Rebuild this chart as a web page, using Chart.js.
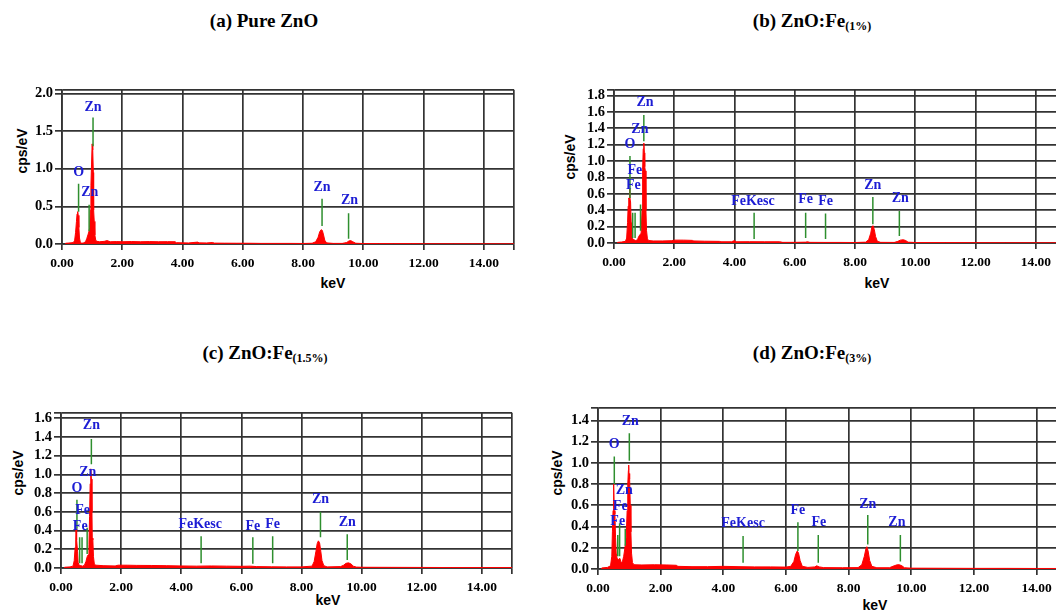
<!DOCTYPE html>
<html>
<head>
<meta charset="utf-8">
<title>EDS spectra of ZnO and ZnO:Fe</title>
<script src="https://cdn.jsdelivr.net/npm/chart.js@4/dist/chart.umd.min.js"></script>
<style>
  html, body { margin: 0; padding: 0; background: #fff; width: 1056px; height: 611px; overflow: hidden; position: relative; }
  .ttl { position: absolute; transform: translate(-50%, -50%); white-space: nowrap;
         font: bold 19px "Liberation Serif", "Times New Roman", serif; color: #000; }
  .ttl small { font-size: 12px; position: relative; top: 3px; }
  .axt { position: absolute; transform: translate(-50%, -50%); white-space: nowrap;
         font: bold 14px "Liberation Sans", Arial, sans-serif; color: #000; }
  .axt.v { transform: translate(-50%, -50%) rotate(-90deg); }
</style>
</head>
<body>
<div class="ttl" style="left:264px;top:21px">(a) Pure ZnO</div>
<div class="ttl" style="left:812px;top:21px">(b) ZnO:Fe<small>(1%)</small></div>
<div class="ttl" style="left:265px;top:353px">(c) ZnO:Fe<small>(1.5%)</small></div>
<div class="ttl" style="left:812px;top:353px">(d) ZnO:Fe<small>(3%)</small></div>

<div class="axt v" style="left:22px;top:151px">cps/eV</div>
<div class="axt" style="left:333px;top:283px">keV</div>
<div class="axt v" style="left:570px;top:157px">cps/eV</div>
<div class="axt" style="left:877px;top:283px">keV</div>
<div class="axt v" style="left:18px;top:473px">cps/eV</div>
<div class="axt" style="left:328px;top:600px">keV</div>
<div class="axt v" style="left:557px;top:473px">cps/eV</div>
<div class="axt" style="left:875px;top:605px">keV</div>

<script>
// energy axis labels shared by all four spectra
const keVTicks = ['0.00', '2.00', '4.00', '6.00', '8.00', '10.00', '12.00', '14.00'];

// ---- (a) pure ZnO ----
const pureKeV = [
  0.10, 0.12, 0.20, 0.30, 0.38, 0.42, 0.45, 0.48, 0.50, 0.52,
  0.54, 0.56, 0.58, 0.61, 0.66, 0.72, 0.78, 0.82, 0.86, 0.89,
  0.92, 0.94, 0.96, 0.98, 1.00, 1.02, 1.04, 1.05, 1.07, 1.09,
  1.12, 1.16, 1.25, 1.40, 1.50, 1.60, 1.80, 2.00, 2.30, 2.60,
  2.90, 3.20, 3.50, 3.75, 3.80, 4.00, 4.20, 4.50, 4.55, 4.80,
  5.00, 5.05, 5.40, 5.80, 6.20, 6.60, 7.00, 7.60, 8.00, 8.30,
  8.42, 8.50, 8.55, 8.60, 8.64, 8.68, 8.72, 8.78, 9.00, 9.30,
  9.45, 9.52, 9.58, 9.65, 9.75, 10.0, 10.5, 11.0, 11.6, 12.0,
  13.0, 14.0, 15.0
];
const pureCps = [
  0.000, 0.010, 0.012, 0.015, 0.020, 0.050, 0.150, 0.300, 0.400, 0.430,
  0.380, 0.220, 0.080, 0.020, 0.010, 0.015, 0.030, 0.070, 0.120, 0.160,
  0.220, 0.450, 0.780, 1.050, 1.330, 1.250, 0.950, 0.450, 0.300, 0.120,
  0.050, 0.035, 0.030, 0.035, 0.045, 0.030, 0.032, 0.030, 0.033, 0.030,
  0.032, 0.030, 0.031, 0.030, 0.018, 0.015, 0.014, 0.025, 0.015, 0.014,
  0.020, 0.012, 0.011, 0.010, 0.010, 0.008, 0.008, 0.008, 0.007, 0.010,
  0.030, 0.090, 0.160, 0.190, 0.180, 0.120, 0.050, 0.015, 0.008, 0.008,
  0.020, 0.040, 0.045, 0.030, 0.010, 0.006, 0.006, 0.005, 0.005, 0.003,
  0.003, 0.002, 0.002
];
const pureYTicks = ['0.0', '0.5', '1.0', '1.5', '2.0'];
const pureLineKeV = [0.55, 0.90, 1.03, 8.63, 9.51];
const pureLineTop = [0.80, 0.52, 1.68, 0.60, 0.41];
const pureLineBase = [0.43, 0.17, 1.30, 0.24, 0.07];
const pureLabel = ['O', 'Zn', 'Zn', 'Zn', 'Zn'];
const pureLabelKeV = [0.55, 0.92, 1.03, 8.63, 9.54];
const pureLabelCps = [0.95, 0.68, 1.82, 0.75, 0.58];

// ---- (b) ZnO:Fe 1% ----
const fe1KeV = [
  0.10, 0.12, 0.25, 0.38, 0.42, 0.45, 0.47, 0.49, 0.51, 0.52,
  0.53, 0.55, 0.57, 0.59, 0.62, 0.66, 0.72, 0.78, 0.82, 0.86,
  0.90, 0.93, 0.95, 0.97, 0.99, 1.01, 1.02, 1.04, 1.06, 1.08,
  1.11, 1.15, 1.30, 1.60, 1.90, 2.00, 2.30, 2.60, 2.65, 3.00,
  3.50, 3.55, 3.90, 4.00, 4.05, 4.50, 5.00, 5.50, 5.60, 6.00,
  6.35, 6.42, 6.50, 7.00, 7.50, 8.00, 8.35, 8.45, 8.52, 8.56,
  8.60, 8.64, 8.68, 8.74, 8.85, 9.30, 9.42, 9.50, 9.60, 9.68,
  9.76, 10.0, 11.0, 12.0, 13.0, 15.0
];
const fe1Cps = [
  0.000, 0.008, 0.012, 0.020, 0.060, 0.250, 0.450, 0.550, 0.530, 0.660,
  0.550, 0.500, 0.250, 0.100, 0.050, 0.040, 0.030, 0.040, 0.080, 0.100,
  0.120, 0.400, 0.900, 1.150, 1.220, 1.100, 0.930, 0.880, 0.400, 0.150,
  0.050, 0.030, 0.025, 0.025, 0.028, 0.035, 0.035, 0.032, 0.025, 0.022,
  0.020, 0.015, 0.015, 0.030, 0.015, 0.016, 0.015, 0.015, 0.008, 0.008,
  0.010, 0.015, 0.008, 0.007, 0.007, 0.006, 0.010, 0.040, 0.120, 0.200,
  0.210, 0.160, 0.080, 0.020, 0.008, 0.007, 0.020, 0.035, 0.040, 0.030,
  0.010, 0.006, 0.005, 0.004, 0.003, 0.002
];
const fe1YTicks = ['0.0', '0.2', '0.4', '0.6', '0.8', '1.0', '1.2', '1.4', '1.6', '1.8'];
const fe1LineKeV = [0.53, 0.62, 0.70, 0.88, 0.99, 4.65, 6.36, 7.02, 8.59, 9.47];
const fe1LineTop = [1.06, 0.37, 0.37, 0.47, 1.56, 0.37, 0.37, 0.36, 0.56, 0.39];
const fe1LineBase = [0.55, 0.06, 0.06, 0.15, 1.24, 0.05, 0.06, 0.05, 0.23, 0.085];
const fe1Label = ['O', 'Fe', 'Fe', 'Zn', 'Zn', 'FeKesc', 'Fe', 'Fe', 'Zn', 'Zn'];
const fe1LabelKeV = [0.53, 0.64, 0.69, 0.86, 1.03, 4.61, 6.36, 7.02, 8.59, 9.50];
const fe1LabelCps = [1.20, 0.70, 0.88, 1.39, 1.72, 0.51, 0.53, 0.51, 0.70, 0.54];

// ---- (c) ZnO:Fe 1.5% ----
const fe15KeV = [
  0.10, 0.12, 0.30, 0.40, 0.44, 0.47, 0.49, 0.50, 0.51, 0.53,
  0.55, 0.57, 0.60, 0.66, 0.72, 0.78, 0.83, 0.87, 0.90, 0.93,
  0.95, 0.97, 0.99, 1.01, 1.03, 1.04, 1.06, 1.08, 1.11, 1.16,
  1.40, 1.80, 1.90, 2.20, 2.50, 3.00, 3.50, 4.00, 4.50, 5.00,
  5.50, 6.00, 6.30, 6.50, 7.00, 7.50, 8.00, 8.35, 8.42, 8.48,
  8.52, 8.56, 8.60, 8.64, 8.68, 8.74, 8.85, 9.30, 9.40, 9.48,
  9.56, 9.64, 9.72, 9.82, 10.0, 11.0, 12.0, 13.0, 14.0, 15.0
];
const fe15Cps = [
  0.000, 0.008, 0.012, 0.020, 0.080, 0.220, 0.300, 0.420, 0.310, 0.300,
  0.180, 0.060, 0.030, 0.025, 0.020, 0.030, 0.070, 0.120, 0.140, 0.250,
  0.550, 0.900, 1.060, 0.950, 0.600, 0.320, 0.300, 0.120, 0.040, 0.030,
  0.025, 0.022, 0.030, 0.030, 0.028, 0.027, 0.025, 0.022, 0.020, 0.022,
  0.020, 0.018, 0.020, 0.015, 0.013, 0.012, 0.012, 0.020, 0.070, 0.180,
  0.260, 0.290, 0.270, 0.180, 0.080, 0.025, 0.012, 0.015, 0.030, 0.050,
  0.055, 0.045, 0.020, 0.010, 0.008, 0.007, 0.006, 0.005, 0.005, 0.005
];
const fe15YTicks = ['0.0', '0.2', '0.4', '0.6', '0.8', '1.0', '1.2', '1.4', '1.6'];
const fe15LineKeV = [0.53, 0.62, 0.70, 0.87, 1.01, 4.66, 6.38, 7.04, 8.63, 9.52];
const fe15LineTop = [0.73, 0.33, 0.33, 0.43, 1.38, 0.34, 0.33, 0.34, 0.60, 0.36];
const fe15LineBase = [0.42, 0.05, 0.05, 0.15, 1.11, 0.05, 0.045, 0.05, 0.33, 0.085];
const fe15Label = ['O', 'Fe', 'Fe', 'Zn', 'Zn', 'FeKesc', 'Fe', 'Fe', 'Zn', 'Zn'];
const fe15LabelKeV = [0.53, 0.64, 0.72, 0.89, 1.01, 4.63, 6.38, 7.04, 8.63, 9.52];
const fe15LabelCps = [0.85, 0.44, 0.62, 1.02, 1.52, 0.47, 0.45, 0.47, 0.73, 0.49];

// ---- (d) ZnO:Fe 3% ----
const fe3KeV = [
  0.10, 0.12, 0.30, 0.40, 0.44, 0.46, 0.48, 0.50, 0.52, 0.54,
  0.56, 0.58, 0.61, 0.65, 0.70, 0.74, 0.78, 0.82, 0.86, 0.90,
  0.93, 0.95, 0.97, 0.98, 0.99, 1.01, 1.03, 1.05, 1.07, 1.10,
  1.15, 1.40, 1.80, 2.20, 2.50, 2.55, 3.00, 3.50, 4.00, 4.50,
  5.00, 5.50, 6.00, 6.15, 6.25, 6.31, 6.36, 6.40, 6.45, 6.52,
  6.70, 6.92, 6.98, 7.06, 7.20, 7.80, 8.30, 8.42, 8.50, 8.55,
  8.58, 8.62, 8.67, 8.74, 8.90, 9.30, 9.45, 9.55, 9.62, 9.70,
  9.78, 10.0, 11.0, 12.0, 13.0, 14.0, 15.0
];
const fe3Cps = [
  0.000, 0.010, 0.015, 0.030, 0.120, 0.350, 0.550, 0.800, 0.550, 0.520,
  0.300, 0.150, 0.100, 0.090, 0.100, 0.060, 0.070, 0.120, 0.200, 0.300,
  0.550, 0.800, 0.930, 0.980, 0.900, 0.850, 0.600, 0.350, 0.150, 0.060,
  0.040, 0.038, 0.040, 0.038, 0.035, 0.025, 0.022, 0.022, 0.025, 0.022,
  0.020, 0.020, 0.018, 0.025, 0.070, 0.140, 0.170, 0.150, 0.080, 0.025,
  0.015, 0.020, 0.030, 0.020, 0.013, 0.012, 0.013, 0.040, 0.120, 0.190,
  0.210, 0.170, 0.080, 0.025, 0.012, 0.012, 0.030, 0.040, 0.040, 0.030,
  0.012, 0.008, 0.007, 0.006, 0.006, 0.005, 0.005
];
const fe3YTicks = ['0.0', '0.2', '0.4', '0.6', '0.8', '1.0', '1.2', '1.4'];
const fe3LineKeV = [0.52, 0.63, 0.69, 0.87, 1.00, 4.63, 6.38, 7.03, 8.61, 9.65];
const fe3LineTop = [1.06, 0.32, 0.43, 0.38, 1.28, 0.31, 0.44, 0.32, 0.51, 0.32];
const fe3LineBase = [0.80, 0.12, 0.12, 0.22, 1.02, 0.06, 0.17, 0.06, 0.23, 0.07];
const fe3Label = ['O', 'Fe', 'Fe', 'Zn', 'Zn', 'FeKesc', 'Fe', 'Fe', 'Zn', 'Zn'];
const fe3LabelKeV = [0.52, 0.63, 0.71, 0.84, 1.03, 4.63, 6.38, 7.05, 8.61, 9.54];
const fe3LabelCps = [1.17, 0.45, 0.59, 0.74, 1.39, 0.43, 0.55, 0.44, 0.61, 0.44];

const GRID = '#333333';
const RED = '#ff0000';
const GREEN = '#2e8f2e';
const BLUE = '#1c1cd4';
const Y_AXIS_W = 56;
const X_AXIS_H = 30;
const PAD_T = 4;
const PAD_R = 4;

// box = plot area in page pixels
const panels = [
  { box: { L: 62, T: 83, R: 515, B: 244 }, yMax: 2.05, yTicks: pureYTicks,
    keV: pureKeV, cps: pureCps,
    lineKeV: pureLineKeV, lineTop: pureLineTop, lineBase: pureLineBase,
    label: pureLabel, labelKeV: pureLabelKeV, labelCps: pureLabelCps },
  { box: { L: 614, T: 83, R: 1067, B: 243 }, yMax: 1.87, yTicks: fe1YTicks,
    keV: fe1KeV, cps: fe1Cps,
    lineKeV: fe1LineKeV, lineTop: fe1LineTop, lineBase: fe1LineBase,
    label: fe1Label, labelKeV: fe1LabelKeV, labelCps: fe1LabelCps },
  { box: { L: 61, T: 406, R: 513, B: 568 }, yMax: 1.66, yTicks: fe15YTicks,
    keV: fe15KeV, cps: fe15Cps,
    lineKeV: fe15LineKeV, lineTop: fe15LineTop, lineBase: fe15LineBase,
    label: fe15Label, labelKeV: fe15LabelKeV, labelCps: fe15LabelCps },
  { box: { L: 598, T: 401, R: 1069, B: 569 }, yMax: 1.52, yTicks: fe3YTicks,
    keV: fe3KeV, cps: fe3Cps,
    lineKeV: fe3LineKeV, lineTop: fe3LineTop, lineBase: fe3LineBase,
    label: fe3Label, labelKeV: fe3LabelKeV, labelCps: fe3LabelCps }
];

// element names written above their marker lines
function peakLabelPlugin(p) {
  return {
    id: 'peakLabels',
    afterDatasetsDraw(chart) {
      const { ctx, scales: { x, y } } = chart;
      ctx.save();
      ctx.font = 'bold 14px "Liberation Serif", serif';
      ctx.fillStyle = BLUE;
      ctx.textAlign = 'center';
      ctx.textBaseline = 'middle';
      p.label.forEach((t, i) => {
        ctx.fillText(t, x.getPixelForValue(p.labelKeV[i]), y.getPixelForValue(p.labelCps[i]));
      });
      ctx.restore();
    }
  };
}

function buildPanel(p) {
  const w = p.box.R - p.box.L + Y_AXIS_W + PAD_R;
  const h = p.box.B - p.box.T + PAD_T + X_AXIS_H;
  const canvas = document.createElement('canvas');
  canvas.width = w;
  canvas.height = h;
  canvas.style.cssText = `position:absolute;left:${p.box.L - Y_AXIS_W}px;top:${p.box.T - PAD_T}px;width:${w}px;height:${h}px`;
  document.body.appendChild(canvas);

  const spectrum = p.keV.map((e, i) => ({ x: e, y: p.cps[i] }));
  const markers = [];
  p.lineKeV.forEach((e, i) => {
    markers.push({ x: e, y: p.lineBase[i] }, { x: e, y: p.lineTop[i] }, { x: e, y: null });
  });

  const tickFont = size => ({ family: '"Liberation Serif", "Times New Roman", serif', weight: 'bold', size });

  new Chart(canvas, {
    type: 'line',
    data: {
      datasets: [
        { data: markers, borderColor: GREEN, borderWidth: 1.5, pointRadius: 0, spanGaps: false, fill: false, tension: 0 },
        { data: spectrum, borderColor: RED, backgroundColor: RED, borderWidth: 1, pointRadius: 0, fill: 'origin', tension: 0 }
      ]
    },
    options: {
      responsive: false,
      animation: false,
      events: [],
      layout: { padding: { top: PAD_T, right: PAD_R, left: 0, bottom: 0 } },
      plugins: { legend: { display: false }, tooltip: { enabled: false } },
      scales: {
        x: {
          type: 'linear',
          min: 0,
          max: 15,
          afterBuildTicks: s => { s.ticks = keVTicks.map(t => ({ value: +t })).concat({ value: 15 }); },
          afterFit: s => { s.height = X_AXIS_H; },
          ticks: {
            callback: (v, i) => keVTicks[i] ?? '',
            font: tickFont(13.5), color: '#000', padding: 5, maxRotation: 0, autoSkip: false
          },
          grid: { color: GRID, lineWidth: 1.7, tickLength: 6 },
          border: { color: GRID, width: 1.7 }
        },
        y: {
          type: 'linear',
          min: 0,
          max: p.yMax,
          afterBuildTicks: s => { s.ticks = p.yTicks.map(t => ({ value: +t })).concat({ value: p.yMax }); },
          afterFit: s => { s.width = Y_AXIS_W; },
          ticks: {
            callback: (v, i) => p.yTicks[i] ?? '',
            font: tickFont(14.5), color: '#000', padding: 2, autoSkip: false
          },
          grid: { color: GRID, lineWidth: 1.7, tickLength: 7 },
          border: { color: GRID, width: 1.7 }
        }
      }
    },
    plugins: [peakLabelPlugin(p)]
  });
}

panels.forEach(buildPanel);
</script>
</body>
</html>
